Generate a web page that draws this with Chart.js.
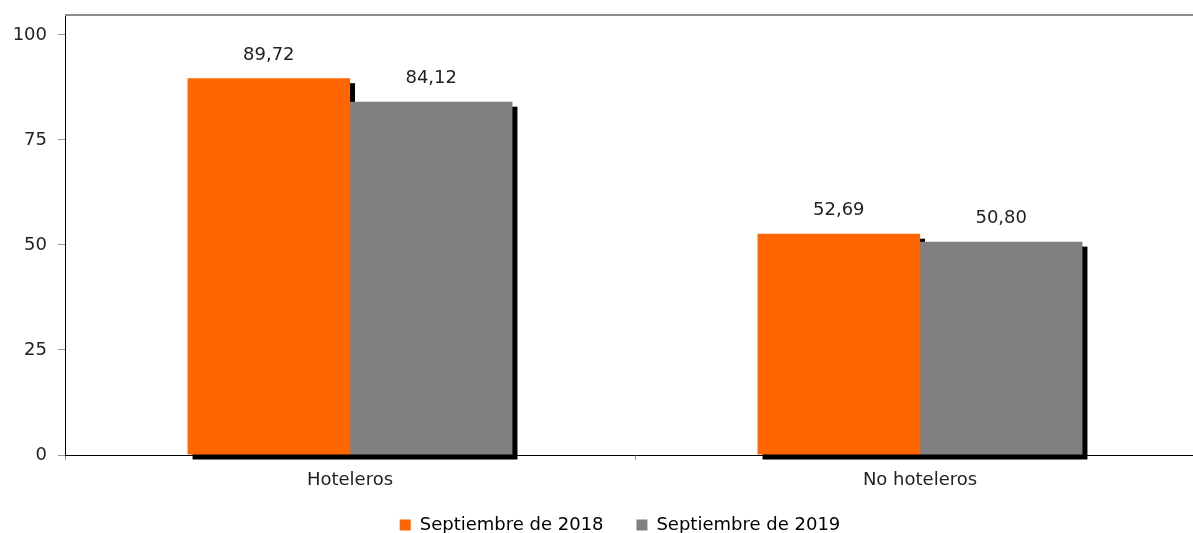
<!DOCTYPE html>
<html>
<head>
<meta charset="utf-8">
<script src="https://cdn.jsdelivr.net/npm/chart.js@4.4.0/dist/chart.umd.min.js"></script>
<style>
  html, body { margin: 0; padding: 0; background: #fff; overflow: hidden; }
  #wrap { position: relative; width: 1240px; height: 544px; }
</style>
</head>
<body>
<div id="wrap"><canvas id="chart"></canvas></div>
<script>
// Data
const categories = ['Hoteleros', 'No hoteleros'];
const sept2018 = [89.72, 52.69];
const sept2019 = [84.12, 50.80];
const yTicks = [0, 25, 50, 75, 100];
const seriesNames = ['Septiembre de 2018', 'Septiembre de 2019'];

const FONT = 'DejaVu Sans';

// black drop shadow behind every bar
const barShadow = {
    id: 'barShadow',
    beforeDatasetsDraw(chart) {
        const ctx = chart.ctx;
        ctx.save();
        ctx.fillStyle = '#000';
        chart.data.datasets.forEach((ds, i) => {
            chart.getDatasetMeta(i).data.forEach(bar => {
                ctx.fillRect(bar.x - bar.width / 2 + 5, bar.y + 5, bar.width, bar.base - bar.y);
            });
        });
        ctx.restore();
    }
};

// value labels above bars + top border of plot area
const valueLabels = {
    id: 'valueLabels',
    afterDatasetsDraw(chart) {
        const ctx = chart.ctx;
        ctx.save();
        ctx.font = '18px "' + FONT + '"';
        ctx.fillStyle = '#222';
        ctx.textAlign = 'center';
        ctx.textBaseline = 'middle';
        chart.data.datasets.forEach((ds, i) => {
            chart.getDatasetMeta(i).data.forEach((bar, j) => {
                ctx.fillText(ds.data[j].toFixed(2).replace('.', ','), bar.x, bar.y - 23);
            });
        });
        const area = chart.chartArea;
        ctx.strokeStyle = '#8c8c8c';
        ctx.lineWidth = 2;
        ctx.beginPath();
        ctx.moveTo(area.left, area.top);
        ctx.lineTo(area.right, area.top);
        ctx.stroke();
        ctx.restore();
    }
};

const ctx = document.getElementById('chart').getContext('2d');
new Chart(ctx, {
    type: 'bar',
    data: {
        labels: categories,
        datasets: [
            { label: seriesNames[0], data: sept2018, backgroundColor: '#ff6600' },
            { label: seriesNames[1], data: sept2019, backgroundColor: '#808080' }
        ]
    },
    options: {
        responsive: true,
        maintainAspectRatio: false,
        animation: false,
        categoryPercentage: 0.57,
        barPercentage: 1,
        layout: { padding: { top: 15, left: 0, right: 0, bottom: 0 } },
        plugins: {
            tooltip: { enabled: false },
            legend: {
                position: 'bottom',
                labels: {
                    font: { family: FONT, size: 18 },
                    color: '#222',
                    boxWidth: 11,
                    boxHeight: 11,
                    padding: 10,
                    generateLabels(chart) {
                        return chart.data.datasets.map((ds, i) => ({
                            text: i === 0 ? ds.label + '    ' : ds.label,
                            fillStyle: ds.backgroundColor,
                            strokeStyle: ds.backgroundColor,
                            lineWidth: 0,
                            datasetIndex: i
                        }));
                    }
                }
            }
        },
        scales: {
            x: {
                grid: { drawOnChartArea: false, tickLength: 5, color: '#999' },
                border: { color: '#000', width: 1 },
                ticks: { font: { family: FONT, size: 18 }, color: '#222', padding: 10 },
                afterFit(scale) { scale.height = 51; }
            },
            y: {
                min: 0,
                max: 104.76,
                afterBuildTicks(scale) { scale.ticks = yTicks.map(v => ({ value: v })); },
                grid: { drawOnChartArea: false, tickLength: 7, color: '#999' },
                border: { color: '#000', width: 1 },
                ticks: { font: { family: FONT, size: 18 }, color: '#222', padding: 11 },
                afterFit(scale) {
                    scale.width = 65;
                    scale.paddingTop = 0;
                    scale.paddingBottom = 0;
                }
            },
            yPad: {
                position: 'right',
                grid: { display: false },
                border: { display: false },
                ticks: { display: false },
                afterFit(scale) {
                    scale.width = 35;
                    scale.paddingTop = 0;
                    scale.paddingBottom = 0;
                }
            }
        }
    },
    plugins: [barShadow, valueLabels]
});
</script>
</body>
</html>
